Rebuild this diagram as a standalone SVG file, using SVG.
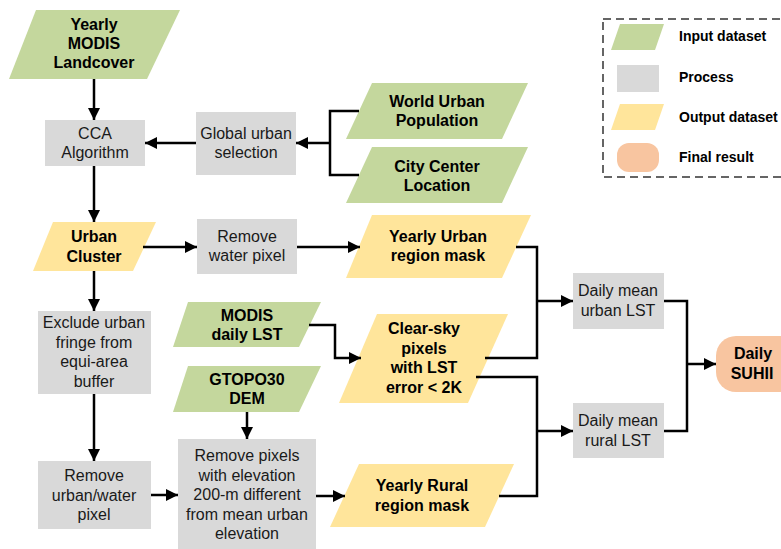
<svg xmlns="http://www.w3.org/2000/svg" width="781" height="549" viewBox="0 0 781 549">
<defs>
<marker id="ah" viewBox="0 0 12 12" refX="12" refY="6" markerWidth="12" markerHeight="12" markerUnits="userSpaceOnUse" orient="auto">
<path d="M0,0 L12,6 L0,12 z" fill="#000"/>
</marker>
<style>
.in{fill:#C4D79D;}
.pr{fill:#D9D9D9;}
.out{fill:#FFE59B;}
.fin{fill:#F8C5A0;}
text{font-family:"Liberation Sans",Arial,sans-serif;font-size:16px;fill:#1a1a1a;text-anchor:middle;}
.b{font-weight:bold;fill:#000;}
.lg{font-size:14px;font-weight:bold;text-anchor:start;fill:#000;}
.c{fill:none;stroke:#000;stroke-width:2.5;}
.a{marker-end:url(#ah);}
</style>
</defs>
<rect width="781" height="549" fill="#fff"/>

<g id="legend">
<rect x="603" y="19" width="192" height="158" fill="none" stroke="#333" stroke-width="1.5" stroke-dasharray="8 5"/>
<polygon class="in" points="620,24 664,24 655,50 611,50"/>
<text class="lg" x="679" y="41">Input dataset</text>
<rect class="pr" x="617" y="65" width="42" height="27"/>
<text class="lg" x="679" y="81.5">Process</text>
<polygon class="out" points="620,104 664,104 655,130 611,130"/>
<text class="lg" x="679" y="122">Output dataset</text>
<rect class="fin" x="617" y="143" width="42" height="29" rx="12"/>
<text class="lg" x="679" y="162">Final result</text>
</g>

<g id="yearly-modis-landcover">
<polygon class="in" points="36,10 180,10 147,79 9,79"/>
<text class="b" x="94" y="30">Yearly</text>
<text class="b" x="94" y="49">MODIS</text>
<text class="b" x="94" y="68">Landcover</text>
</g>

<g id="cca">
<rect class="pr" x="45" y="120" width="100" height="46"/>
<text x="95" y="138.5">CCA</text>
<text x="95" y="158">Algorithm</text>
</g>

<g id="global-urban">
<rect class="pr" x="196" y="112" width="100" height="63"/>
<text x="246" y="138.5">Global urban</text>
<text x="246" y="158">selection</text>
</g>

<g id="world-urban-population">
<polygon class="in" points="372,83 528,83 502,139 346,139"/>
<text class="b" x="437" y="107">World Urban</text>
<text class="b" x="437" y="126">Population</text>
</g>

<g id="city-center">
<polygon class="in" points="372,147 528,147 502,203 346,203"/>
<text class="b" x="437" y="172">City Center</text>
<text class="b" x="437" y="190.5">Location</text>
</g>

<g id="urban-cluster">
<polygon class="out" points="53,222 156,222 133,271 33,271"/>
<text class="b" x="94" y="242">Urban</text>
<text class="b" x="94" y="261.5">Cluster</text>
</g>

<g id="remove-water">
<rect class="pr" x="197" y="219" width="100" height="55"/>
<text x="247" y="242">Remove</text>
<text x="247" y="261">water pixel</text>
</g>

<g id="yearly-urban-mask">
<polygon class="out" points="372,215 531,215 502,278 346,278"/>
<text class="b" x="438" y="242">Yearly Urban</text>
<text class="b" x="438" y="261">region mask</text>
</g>

<g id="exclude-fringe">
<rect class="pr" x="38" y="311" width="113" height="83"/>
<text x="94" y="328">Exclude urban</text>
<text x="94" y="347.5">fringe from</text>
<text x="94" y="367">equi-area</text>
<text x="94" y="386.5">buffer</text>
</g>

<g id="modis-daily-lst">
<polygon class="in" points="188,302 321,302 299,347 173,347"/>
<text class="b" x="247" y="321">MODIS</text>
<text class="b" x="247" y="340">daily LST</text>
</g>

<g id="gtopo30">
<polygon class="in" points="188,366 321,366 299,412 173,412"/>
<text class="b" x="247" y="385">GTOPO30</text>
<text class="b" x="247" y="404">DEM</text>
</g>

<g id="clear-sky">
<polygon class="out" points="377,314 508,314 468,403 339,403"/>
<text class="b" x="424" y="334">Clear-sky</text>
<text class="b" x="424" y="353.5">pixels</text>
<text class="b" x="424" y="373">with LST</text>
<text class="b" x="424" y="392.5">error &lt; 2K</text>
</g>

<g id="remove-urban-water">
<rect class="pr" x="38" y="461" width="113" height="68"/>
<text x="94" y="481">Remove</text>
<text x="94" y="501">urban/water</text>
<text x="94" y="520">pixel</text>
</g>

<g id="remove-elevation">
<rect class="pr" x="178" y="439" width="138" height="110"/>
<text x="247" y="461">Remove pixels</text>
<text x="247" y="480.5">with elevation</text>
<text x="247" y="500">200-m different</text>
<text x="247" y="519.5">from mean urban</text>
<text x="247" y="539">elevation</text>
</g>

<g id="yearly-rural-mask">
<polygon class="out" points="359,464 514,464 485,527 330,527"/>
<text class="b" x="422" y="491">Yearly Rural</text>
<text class="b" x="422" y="510.5">region mask</text>
</g>

<g id="daily-urban-lst">
<rect class="pr" x="573" y="273" width="91" height="56"/>
<text x="618" y="296">Daily mean</text>
<text x="618" y="315.5">urban LST</text>
</g>

<g id="daily-rural-lst">
<rect class="pr" x="573" y="403" width="91" height="55"/>
<text x="618" y="426">Daily mean</text>
<text x="618" y="445.5">rural LST</text>
</g>

<g id="daily-suhii">
<rect class="fin" x="716" y="336" width="90" height="56" rx="20"/>
<text class="b" x="753" y="359">Daily</text>
<text class="b" x="752" y="379">SUHII</text>
</g>

<g id="connectors">
<path class="c a" d="M94,79 V120"/>
<path class="c a" d="M196,143 H145"/>
<path class="c" d="M359,111 H330 V175 H359"/>
<path class="c a" d="M330,143 H296"/>
<path class="c a" d="M94,166 V222"/>
<path class="c a" d="M143,247 H197"/>
<path class="c a" d="M297,247 H360"/>
<path class="c a" d="M94,271 V311"/>
<path class="c a" d="M94,394 V461"/>
<path class="c a" d="M151,495 H178"/>
<path class="c a" d="M247,412 V439"/>
<path class="c a" d="M309,325 H335 V358 H361"/>
<path class="c a" d="M316,496 H345"/>
<path class="c" d="M516,247 H537 V358 H485"/>
<path class="c a" d="M537,301 H573"/>
<path class="c" d="M476,377 H537 V496 H499"/>
<path class="c a" d="M537,431 H573"/>
<path class="c" d="M664,301 H687 V431 H664"/>
<path class="c a" d="M687,364 H716"/>
</g>
</svg>
